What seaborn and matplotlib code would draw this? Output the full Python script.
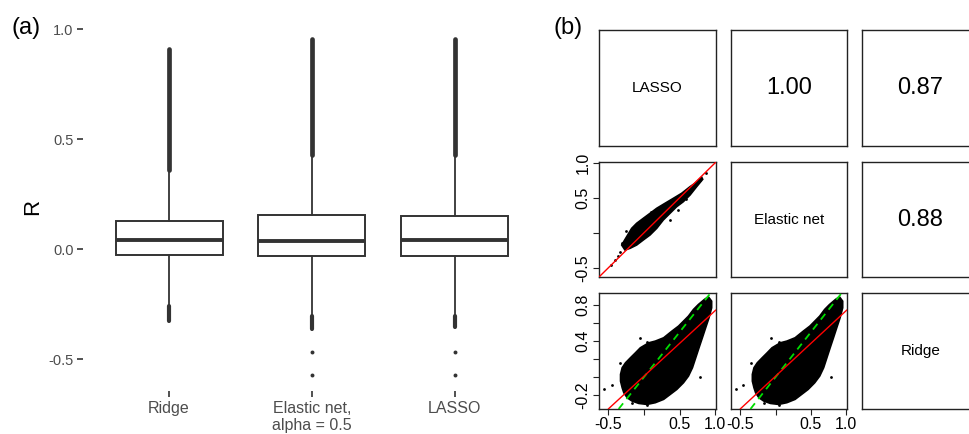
import numpy as np
import pandas as pd
import matplotlib
matplotlib.use("Agg")
import matplotlib.pyplot as plt
import seaborn as sns

# ---- panel (a): box summaries ----
methods = ["Ridge", "Elastic net,\nalpha = 0.5", "LASSO"]
q1 = [-0.026, -0.030, -0.029]
median = [0.042, 0.039, 0.042]
q3 = [0.130, 0.156, 0.153]
whisker_lo = [-0.258, -0.305, -0.303]
whisker_hi = [0.362, 0.430, 0.428]
# outliers are so dense they form solid streaks: start / end of each streak
flier_hi_end = [0.909, 0.956, 0.956]
flier_lo_end = [-0.325, -0.360, -0.352]
# isolated outliers
far_method = ["Elastic net,\nalpha = 0.5", "Elastic net,\nalpha = 0.5", "LASSO", "LASSO"]
far_value = [-0.465, -0.571, -0.465, -0.571]

# ---- panel (b): pairs plot ----
pair_names = ["LASSO", "Elastic net", "Ridge"]
r_lasso_enet = "1.00"
r_lasso_ridge = "0.87"
r_enet_ridge = "0.88"

# outline of the point cloud, Elastic net (y) vs LASSO (x)
enet_cloud_x = [-0.312, -0.242, -0.172, -0.102, -0.009, 0.085, 0.179, 0.295, 0.412, 0.529, 0.646, 0.716, 0.810,
                0.824, 0.739, 0.646, 0.552, 0.459, 0.365, 0.271, 0.179, 0.085, -0.009, -0.102, -0.195, -0.266]
enet_cloud_y = [-0.174, -0.055, 0.064, 0.136, 0.207, 0.278, 0.350, 0.421, 0.492, 0.564, 0.658, 0.706, 0.792,
                0.763, 0.658, 0.539, 0.444, 0.373, 0.278, 0.183, 0.064, -0.031, -0.102, -0.174, -0.221, -0.245]
enet_out_x = [-0.467, -0.406, -0.36, -0.33, -0.314, 0.099, 0.482, 0.368, 0.587, 0.786, 0.87, -0.25]
enet_out_y = [-0.454, -0.388, -0.33, -0.27, -0.140, 0.300, 0.326, 0.180, 0.487, 0.753, 0.86, 0.03]
enet_fit = (0.0, 1.0)  # intercept, slope

# outline of the point cloud, Ridge (y) vs LASSO or Elastic net (x) - both panels look the same
ridge_cloud_x = [0.903, 0.847, 0.763, 0.694, 0.624, 0.554, 0.485, 0.392, 0.276, 0.159, 0.067, -0.050, -0.119,
                 -0.189, -0.258, -0.305, -0.328, -0.328, -0.305, -0.282, -0.235, -0.166, -0.073, 0.043, 0.159,
                 0.276, 0.368, 0.461, 0.554, 0.624, 0.680, 0.726, 0.772, 0.819, 0.865, 0.912, 0.949, 0.949]
ridge_cloud_y = [0.893, 0.863, 0.807, 0.752, 0.678, 0.622, 0.567, 0.511, 0.437, 0.400, 0.381, 0.326, 0.270,
                 0.215, 0.159, 0.104, 0.030, -0.045, -0.119, -0.174, -0.230, -0.267, -0.293, -0.304, -0.285,
                 -0.248, -0.193, -0.137, -0.063, 0.011, 0.104, 0.215, 0.326, 0.437, 0.548, 0.659, 0.770, 0.844]
ridge_out_x = [-0.560, -0.454, -0.342, 0.043, 0.104, -0.06, 0.786, 0.601, 0.726, 0.043, -0.166]
ridge_out_y = [-0.137, -0.089, 0.152, 0.392, 0.374, 0.433, 0.004, 0.085, 0.278, -0.315, -0.285]
ridge_fit = (0.01, 0.73)

wide_lim = (-0.63, 1.01)
ridge_lim = (-0.355, 0.935)

sns.set_style("white")
plt.rcParams["font.family"] = ["Liberation Sans", "DejaVu Sans"]

W, H = 970, 434
fig = plt.figure(figsize=(W / 100, H / 100), dpi=100)

# ---------------- panel (a) ----------------
dark = "#333333"
ax = fig.add_axes([83.4 / W, 1 - 391 / H, (540.3 - 83.4) / W, (391 - 22) / H])
pos = [1, 2, 3]
ax.vlines(pos, whisker_hi, flier_hi_end, color=dark, lw=3.4, capstyle="round", zorder=1)
ax.vlines(pos, flier_lo_end, whisker_lo, color=dark, lw=3.0, capstyle="round", zorder=1)
stats = []
for i in range(3):
    stats.append(dict(q1=q1[i], med=median[i], q3=q3[i], whislo=whisker_lo[i], whishi=whisker_hi[i], fliers=[]))
ax.bxp(stats, positions=pos, widths=0.75, showfliers=False, showcaps=False, patch_artist=True,
       boxprops=dict(facecolor="white", edgecolor=dark, lw=1.4),
       medianprops=dict(color=dark, lw=2.8, solid_capstyle="butt"),
       whiskerprops=dict(color=dark, lw=1.3))
far = pd.DataFrame({"x": [pos[methods.index(m)] for m in far_method], "R": far_value})
sns.scatterplot(data=far, x="x", y="R", ax=ax, color=dark, s=8, linewidth=0, legend=False, zorder=3)
ax.set_xlim(0.4, 3.6)
ax.set_ylim(-0.644, 1.033)
ax.set_xticks(pos)
ax.set_xticklabels(methods, fontsize=11.5, color="#4D4D4D")
ax.set_yticks([-0.5, 0.0, 0.5, 1.0])
ax.set_yticklabels(["-0.5", "0.0", "0.5", "1.0"], fontsize=10.5, color="#4D4D4D")
ax.tick_params(left=True, bottom=True, length=4, width=1.2, color=dark, pad=3)
ax.set_xlabel("")
ax.set_ylabel("")
for s in ax.spines.values():
    s.set_visible(False)
fig.text(33 / W, 1 - 207 / H, "R", rotation=90, ha="center", va="center", fontsize=16, color="black")
fig.text(26 / W, 1 - 28 / H, "(a)", ha="center", va="center", fontsize=17, color="black")

# ---------------- panel (b) ----------------
col_left = [599, 731, 862]
col_w = [117, 116, 117]
row_top = [30, 162, 293]
row_h = [116, 115, 116]


def cell(r, c):
    a = fig.add_axes([col_left[c] / W, 1 - (row_top[r] + row_h[r]) / H, col_w[c] / W, row_h[r] / H])
    for s in a.spines.values():
        s.set_visible(True)
        s.set_color("#222222")
        s.set_linewidth(1.0)
    a.tick_params(direction="out", length=4, width=0.8, color="#222222", labelsize=11.5, pad=2,
                  labelcolor="black", left=False, bottom=False, labelleft=False, labelbottom=False)
    return a


def text_cell(r, c, txt, size):
    a = cell(r, c)
    a.set_xticks([])
    a.set_yticks([])
    a.text(0.5, 0.5, txt, ha="center", va="center", fontsize=size, color="black", transform=a.transAxes)
    return a


text_cell(0, 0, pair_names[0], 11)
text_cell(0, 1, r_lasso_enet, 17)
text_cell(0, 2, r_lasso_ridge, 17)
text_cell(1, 1, pair_names[1], 11)
text_cell(1, 2, r_enet_ridge, 17)
text_cell(2, 2, pair_names[2], 11)


def scatter_cell(r, c, cx, cy, ox, oy, fit, ylim, diag):
    a = cell(r, c)
    a.fill(cx, cy, color="black", lw=1.2, zorder=2)
    sns.scatterplot(x=ox, y=oy, ax=a, color="black", s=4, linewidth=0, legend=False, zorder=2)
    if diag:
        a.axline((0, 0), slope=1, color="#00DD00", lw=1.3, dashes=(4, 3), zorder=3)
    a.axline((0, fit[0]), slope=fit[1], color="#FF0000", lw=1.0, zorder=4)
    a.set_xlim(wide_lim)
    a.set_ylim(ylim)
    a.set_xticks([-0.5, 0, 0.5, 1.0])
    a.set_xticklabels(["-0.5", "", "0.5", "1.0"])
    return a


a21 = scatter_cell(1, 0, enet_cloud_x, enet_cloud_y, enet_out_x, enet_out_y, enet_fit, wide_lim, False)
a21.set_yticks([-0.5, 0, 0.5, 1.0])
a21.set_yticklabels(["-0.5", "", "0.5", "1.0"], rotation=90, va="center")
a21.tick_params(left=True, labelleft=True)

a31 = scatter_cell(2, 0, ridge_cloud_x, ridge_cloud_y, ridge_out_x, ridge_out_y, ridge_fit, ridge_lim, True)
a31.set_yticks([-0.2, 0, 0.2, 0.4, 0.6, 0.8])
a31.set_yticklabels(["-0.2", "", "", "0.4", "", "0.8"], rotation=90, va="center")
a31.tick_params(left=True, labelleft=True, bottom=True, labelbottom=True)

a32 = scatter_cell(2, 1, ridge_cloud_x, ridge_cloud_y, ridge_out_x, ridge_out_y, ridge_fit, ridge_lim, True)
a32.set_yticks([])
a32.tick_params(bottom=True, labelbottom=True)

fig.text(568 / W, 1 - 28 / H, "(b)", ha="center", va="center", fontsize=17, color="black")

fig.savefig("out.png", dpi=100)
